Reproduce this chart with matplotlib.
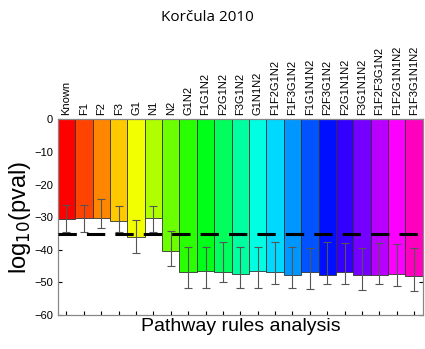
import numpy as np
import matplotlib
matplotlib.use('Agg')
import matplotlib.pyplot as plt
import matplotlib.colors as mcolors

plt.rcParams['font.family'] = ['Liberation Sans', 'DejaVu Sans']

# 通路规则名称
rules = ['Known', 'F1', 'F2', 'F3', 'G1', 'N1', 'N2', 'G1N2', 'F1G1N2', 'F2G1N2',
         'F3G1N2', 'G1N1N2', 'F1F2G1N2', 'F1F3G1N2', 'F1G1N1N2', 'F2F3G1N2',
         'F2G1N1N2', 'F3G1N1N2', 'F1F2F3G1N2', 'F1F2G1N1N2', 'F1F3G1N1N2']
# log10(pval) 均值
log_pval = [-30.5, -30.2, -30.2, -31.2, -36.2, -30.2, -40.5, -46.9, -46.6, -46.8,
            -47.6, -46.6, -47.0, -47.7, -46.9, -47.7, -46.9, -47.7, -47.8, -47.5, -48.0]
# 误差条上下端
err_top = [-26.4, -26.4, -24.5, -26.6, -30.8, -26.5, -34.2, -39.1, -39.1, -37.6,
           -39.1, -39.1, -37.6, -39.1, -39.6, -37.7, -37.9, -39.4, -37.9, -38.4, -39.6]
err_bot = [-34.5, -34.5, -33.2, -34.5, -41.1, -34.5, -45.0, -51.9, -51.9, -50.0,
           -51.9, -51.9, -50.4, -51.9, -52.2, -50.4, -50.6, -52.4, -50.4, -51.1, -52.7]
threshold = -35.2

n = len(rules)
x = np.arange(n)
# 色相从红到品红
colors = [mcolors.hsv_to_rgb((i * 0.04375, 1, 1)) for i in range(n)]

fig = plt.figure(figsize=(4.25, 3.49), dpi=100)
ax = fig.add_axes([0.136, 0.098, 0.859, 0.56])

ax.bar(x, log_pval, width=1.0, color=colors, edgecolor='#333333', linewidth=0.6, zorder=2)

centers = (np.array(err_top) + np.array(err_bot)) / 2
yerr = [centers - np.array(err_bot), np.array(err_top) - centers]
ax.errorbar(x, centers, yerr=yerr, fmt='none', ecolor='#555555', elinewidth=0.8,
            capsize=3, capthick=0.8, zorder=3)

ax.hlines(threshold, -0.5, n - 0.7, colors='black', linewidth=2.2,
          linestyles=(0, (6, 3.3)), zorder=4)

ax.set_xlim(-0.5, n - 0.5)
ax.set_ylim(-60, 0)
ax.set_yticks(range(-60, 1, 10))
ax.set_yticklabels([str(v).replace('-', '\u2212') for v in range(-60, 1, 10)], fontsize=8)

ax.set_xticks(x)
ax.set_xticklabels(rules, rotation=90, fontsize=8)
ax.tick_params(axis='x', direction='in', top=True, bottom=True,
               labeltop=True, labelbottom=False, length=3, pad=3)
ax.tick_params(axis='y', direction='in', left=True, right=True, length=3)

for s in ax.spines.values():
    s.set_color('#888888')
    s.set_linewidth(0.9)

ax.set_ylabel('log$_{10}$(pval)', fontsize=17, labelpad=1)
ax.set_xlabel('Pathway rules analysis', fontsize=14, labelpad=2)

fig.text(0.487, 0.95, 'Korčula 2010', ha='center', va='center', fontsize=11,
         family=['Open Sans', 'DejaVu Sans'])

fig.savefig('out.png', dpi=100)
